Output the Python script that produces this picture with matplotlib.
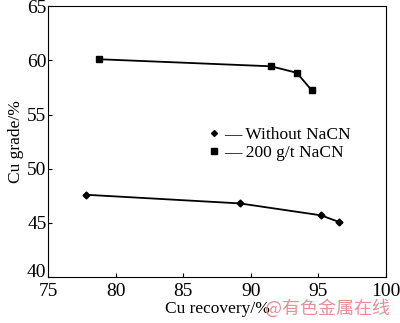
import matplotlib
matplotlib.use("Agg")
from matplotlib import pyplot as plt
from matplotlib.lines import Line2D

plt.rcParams['font.family'] = ['Liberation Serif', 'DejaVu Serif']

# Cu recovery (%) vs Cu grade (%)
rec_without = [77.8, 89.2, 95.2, 96.5]
grade_without = [47.6, 46.8, 45.7, 45.1]
rec_nacn = [78.8, 91.5, 93.4, 94.5]
grade_nacn = [60.1, 59.45, 58.85, 57.25]

xticks = [75, 80, 85, 90, 95, 100]
yticks = [40, 45, 50, 55, 60, 65]
labels = ['Without NaCN', '200 g/t NaCN']

fig = plt.figure(figsize=(4.0, 3.23), dpi=100)
ax = fig.add_axes([0.12, 0.142, 0.845, 0.839])

ax.plot(rec_without, grade_without, color='black', lw=1.3, marker='D', ms=3.5)
ax.plot(rec_nacn, grade_nacn, color='black', lw=1.3, marker='s', ms=5)

ax.set_xlim(75, 100)
ax.set_ylim(40, 65)
ax.set_xticks(xticks)
ax.set_yticks(yticks)
ax.tick_params(direction='in', length=3, labelsize=14, width=0.8, pad=1)
ax.tick_params(axis='x', pad=4)
ylabels = ax.get_yticklabels()
for t in ylabels:
    t.set_verticalalignment('center_baseline')
# lowest label sits a little above the axis line, as in the original
ylabels[0].set_verticalalignment('baseline')
ax.set_xlabel('Cu recovery/%', fontsize=12.5, labelpad=1)
ax.set_ylabel('Cu grade/%', fontsize=12.5, labelpad=2)
for s in ax.spines.values():
    s.set_linewidth(0.8)

handles = [Line2D([], [], color='black', ls='none', marker='D', ms=3),
           Line2D([], [], color='black', ls='none', marker='s', ms=4.5)]
ax.legend(handles, ['\u2014 ' + l for l in labels], loc='center left',
          bbox_to_anchor=(0.44, 0.49), frameon=False, fontsize=12.5,
          handlelength=0.6, handletextpad=0.3, labelspacing=0.1,
          borderpad=0.2)

fig.text(0.975, 0.015, '@有色金属在线', color='#ec8e98', fontsize=13,
         ha='right', va='bottom', family=['Noto Sans CJK SC', 'DejaVu Sans'])

fig.savefig('out.png', dpi=100)
